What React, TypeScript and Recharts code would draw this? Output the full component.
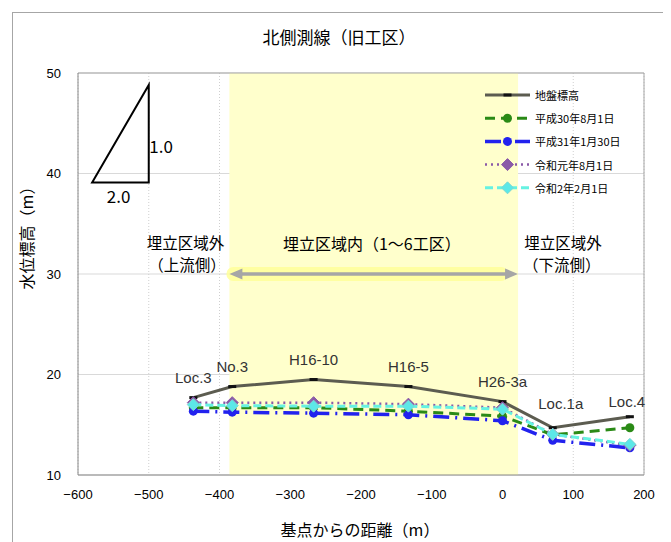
import React from 'react';
import {
  LineChart,
  Line,
  XAxis,
  YAxis,
  CartesianGrid,
  ReferenceArea,
  ReferenceLine,
  ReferenceDot,
  LabelList,
} from 'recharts';

const FONT = '"Liberation Sans", "Noto Sans CJK JP", sans-serif';
const JP = '"Noto Sans CJK JP", "Liberation Sans", sans-serif';

// 地点名と基点からの距離(m)
const points = ['Loc.3', 'No.3', 'H16-10', 'H16-5', 'H26-3a', 'Loc.1a', 'Loc.4'];
const distance = [-437, -382, -267, -133, 0, 71, 180];

// 標高(m)
const groundLevel = [17.7, 18.8, 19.5, 18.8, 17.3, 14.7, 15.8];
const h30Aug1 = [16.7, 16.7, 16.7, 16.35, 15.85, 14.0, 14.7];
const h31Jan30 = [16.35, 16.25, 16.15, 16.0, 15.4, 13.45, 12.7];
const r1Aug1 = [17.2, 17.2, 17.2, 17.05, 16.7, 14.05, 12.95];
const r2Feb1 = [17.0, 16.9, 16.85, 16.85, 16.55, 14.05, 13.05];

const xTicks = [-600, -500, -400, -300, -200, -100, 0, 100, 200];
const yTicks = [10, 20, 30, 40, 50];

// 埋立区域の範囲
const landfillFrom = -386;
const landfillTo = 22;

const data = points.map((name, i) => ({
  name,
  x: distance[i],
  ground: groundLevel[i],
  h30: h30Aug1[i],
  h31: h31Jan30[i],
  r1: r1Aug1[i],
  r2: r2Feb1[i],
}));

const barDot = (color: string) => (p: any) =>
  <rect key={`g${p.index}`} x={p.cx - 4} y={p.cy - 1.5} width={8} height={3} fill={color} />;
const circleDot = (color: string) => (p: any) =>
  <circle key={`c${p.index}`} cx={p.cx} cy={p.cy} r={4.5} fill={color} />;
const diamondDot = (fill: string, stroke: string) => (p: any) => (
  <path
    key={`d${p.index}`}
    d={`M${p.cx},${p.cy - 6}L${p.cx + 6},${p.cy}L${p.cx},${p.cy + 6}L${p.cx - 6},${p.cy}Z`}
    fill={fill}
    stroke={stroke}
    strokeWidth={1}
  />
);

const series = [
  { key: 'ground', name: '地盤標高', color: '#5c5c50', width: 3, dash: undefined, dot: barDot('#111') },
  { key: 'h30', name: '平成30年8月1日', color: '#2a8a16', width: 3, dash: '10 6', dot: circleDot('#2a8a16') },
  { key: 'h31', name: '平成31年1月30日', color: '#2222ee', width: 3.5, dash: '16 6 2 6', dot: circleDot('#2222ee') },
  { key: 'r1', name: '令和元年8月1日', color: '#8a5aa8', width: 2.5, dash: '2 4', dot: diamondDot('#8a5aa8', '#8a5aa8') },
  { key: 'r2', name: '令和2年2月1日', color: '#66f2e2', width: 3, dash: '8 4', dot: diamondDot('#5ce8e8', '#7fd8d0') },
];

const labelNudge: Record<string, [number, number]> = {
  'Loc.1a': [8, -24],
  'Loc.4': [-3, -15],
};

const renderPointLabel = (p: any) => {
  const name = points[p.index];
  const [dx, dy] = labelNudge[name] ?? [0, -20];
  return (
    <text
      key={`l${p.index}`}
      x={p.x + dx}
      y={p.y + dy}
      textAnchor="middle"
      dominantBaseline="central"
      fontSize={15}
      fontFamily={FONT}
      fill="#333"
    >
      {name}
    </text>
  );
};

const note = (text: string, size = 16) => (p: any) => (
  <text x={p.cx} y={p.cy} textAnchor="middle" dominantBaseline="central" fontSize={size} fontFamily={JP} fill="#000">
    {text}
  </text>
);

const arrowShape = (p: any) => {
  const { x1, y1, x2 } = p;
  const c = '#a6a6a6';
  return (
    <g>
      <line x1={x1 + 4} y1={y1} x2={x2 - 17} y2={y1} stroke="#ffff99" strokeOpacity={0.85} strokeWidth={14} strokeLinecap="round" />
      <line x1={x1 + 10} y1={y1} x2={x2 - 10} y2={y1} stroke={c} strokeWidth={3.5} />
      <polygon points={`${x1},${y1} ${x1 + 13},${y1 - 5.5} ${x1 + 13},${y1 + 5.5}`} fill={c} />
      <polygon points={`${x2},${y1} ${x2 - 13},${y1 - 5.5} ${x2 - 13},${y1 + 5.5}`} fill={c} />
    </g>
  );
};

const triangleShape = (p: any) => {
  const { x1, y1, x2, y2 } = p;
  return (
    <polygon points={`${x1},${y1} ${x2},${y1} ${x2},${y2}`} fill="none" stroke="#000" strokeWidth={2} />
  );
};

const fmt = (v: number) => String(v).replace('-', '\u2212');

function LegendBox() {
  return (
    <svg width={170} height={130} style={{ position: 'absolute', left: 482, top: 84 }}>
      {series.map((s, i) => {
        const y = 11 + i * 23.2;
        const Dot: any = s.dot;
        return (
          <g key={s.key}>
            <line x1={3} y1={y} x2={48} y2={y} stroke={s.color} strokeWidth={s.width} strokeDasharray={s.dash} />
            <Dot cx={25.5} cy={y} index={i} />
            <text x={53} y={y} dominantBaseline="central" fontSize={11} fontFamily={JP} fill="#000">
              {s.name}
            </text>
          </g>
        );
      })}
    </svg>
  );
}

export default function App() {
  return (
    <div style={{ position: 'relative', width: 663, height: 534, overflow: 'hidden', background: '#fff' }}>
      <div style={{ position: 'absolute', left: 4, top: 4, width: 900, height: 900, border: '1px solid #a6a6a6' }} />
      <div style={{ position: 'absolute', left: -8, top: -8, width: 671, height: 542 }}>
        <LineChart width={671} height={542} data={data} margin={{ top: 73, right: 27, bottom: 0, left: 0 }}>
          <ReferenceArea x1={landfillFrom} x2={landfillTo} y1={10} y2={50} fill="#ffffcc" fillOpacity={1} stroke="none" />
          <CartesianGrid horizontal={true} vertical={false} stroke="#d9d9d9" />
          <CartesianGrid horizontal={false} vertical={true} stroke="#cfcfcf" strokeDasharray="1 2" />
          <XAxis
            type="number"
            dataKey="x"
            domain={[-600, 200]}
            ticks={xTicks}
            allowDataOverflow
            height={67}
            tickSize={0}
            tickMargin={15}
            tickFormatter={fmt}
            axisLine={{ stroke: '#888' }}
            tick={{ fill: '#000', fontSize: 13, fontFamily: FONT }}
          />
          <YAxis
            type="number"
            domain={[10, 50]}
            ticks={yTicks}
            allowDataOverflow
            width={78}
            tickSize={0}
            tickMargin={17}
            axisLine={{ stroke: '#888' }}
            tick={{ fill: '#000', fontSize: 13, fontFamily: FONT }}
          />
          <ReferenceLine y={50} stroke="#a6a6a6" />
          <ReferenceLine x={200} stroke="#a6a6a6" />

          <ReferenceLine segment={[{ x: -580, y: 39.1 }, { x: -500, y: 48.8 }]} shape={triangleShape} />
          <ReferenceDot x={-482.6} y={42.76} r={0} shape={note('1.0', 17)} />
          <ReferenceDot x={-542.6} y={37.78} r={0} shape={note('2.0', 17)} />

          <ReferenceLine segment={[{ x: landfillFrom, y: 30 }, { x: landfillTo, y: 30 }]} shape={arrowShape} />
          <ReferenceDot x={-448} y={33.2} r={0} shape={note('埋立区域外', 15.5)} />
          <ReferenceDot x={-446} y={31.0} r={0} shape={note('（上流側）', 15.5)} />
          <ReferenceDot x={-184.7} y={33.13} r={0} shape={note('埋立区域内（1～6工区）')} />
          <ReferenceDot x={85.6} y={33.2} r={0} shape={note('埋立区域外', 15.5)} />
          <ReferenceDot x={83.7} y={31.0} r={0} shape={note('（下流側）', 15.5)} />

          {series.map((s) => (
            <Line
              key={s.key}
              type="linear"
              dataKey={s.key}
              name={s.name}
              stroke={s.color}
              strokeWidth={s.width}
              strokeDasharray={s.dash}
              dot={s.dot}
              activeDot={false}
              isAnimationActive={false}
            >
              {s.key === 'ground' && <LabelList dataKey="name" content={renderPointLabel} />}
            </Line>
          ))}
        </LineChart>
        <LegendBox />
        <svg width={671} height={542} style={{ position: 'absolute', left: 0, top: 0, pointerEvents: 'none' }}>
          <text x={339} y={36} textAnchor="middle" dominantBaseline="central" fontSize={17} fontFamily={JP} fill="#000">
            北側測線（旧工区）
          </text>
          <text x={360} y={529} textAnchor="middle" dominantBaseline="central" fontSize={16} fontFamily={JP} fill="#000">
            基点からの距離（m）
          </text>
          <text
            x={26}
            y={234}
            textAnchor="middle"
            dominantBaseline="central"
            fontSize={16}
            fontFamily={JP}
            fill="#000"
            transform="rotate(-90 26 234)"
          >
            水位標高（m）
          </text>
        </svg>
      </div>
    </div>
  );
}
